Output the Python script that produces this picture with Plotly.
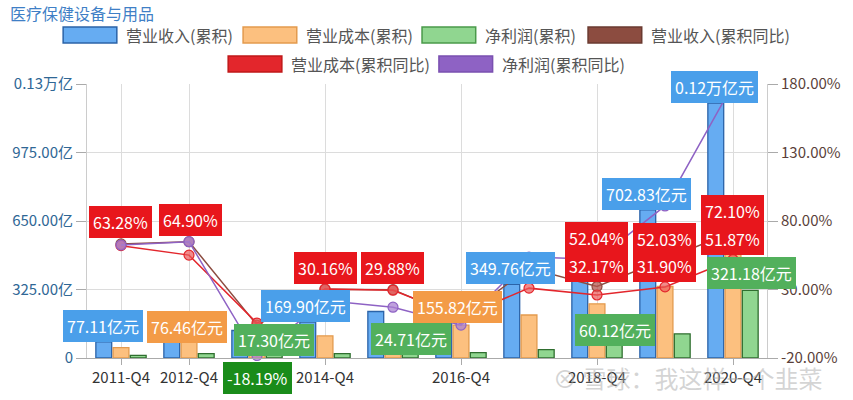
import plotly.graph_objects as go

# ---------------- data ----------------
categories = ["2011-Q4", "2012-Q4", "2013-Q4", "2014-Q4", "2015-Q4",
              "2016-Q4", "2017-Q4", "2018-Q4", "2019-Q4", "2020-Q4"]
revenue = [77.11, 126.9, 130.5, 169.90, 220.7, 240.0, 349.76, 462.3, 702.83, 1209.6]
cost = [49.3, 76.46, 80.7, 105.2, 136.2, 155.82, 204.1, 257.2, 339.2, 515.2]
profit = [12.8, 21.15, 17.30, 21.1, 24.71, 25.7, 39.5, 60.12, 114.8, 321.18]
revenue_yoy = [63.28, 64.90, 4.0, 30.16, 29.88, 8.8, 45.7, 32.17, 52.03, 72.10]
cost_yoy = [62.0, 55.1, 5.5, 30.4, 29.5, 10.0, 31.0, 26.0, 31.90, 51.87]
profit_yoy = [62.5, 64.90, -18.19, 22.0, 17.1, 4.0, 53.7, 52.04, 91.0, 179.7]

shown_ticks = ["2011-Q4", "2012-Q4", "2014-Q4", "2016-Q4", "2018-Q4", "2020-Q4"]
left_ticks = [0, 325, 650, 975, 1300]
left_ticktext = ["0", "325.00亿", "650.00亿", "975.00亿", "0.13万亿"]
right_ticks = [-20, 30, 80, 130, 180]

title_text = "医疗保健设备与用品"
series_names = ["营业收入(累积)", "营业成本(累积)", "净利润(累积)",
                "营业收入(累积同比)", "营业成本(累积同比)", "净利润(累积同比)"]
watermark = "雪球：我这样一个韭菜"

# ---------------- style ----------------
FONT = "Noto Sans CJK SC, Noto Sans, sans-serif"
W, H = 853, 400
PL, PR, PT, PB = 86, 770, 84, 358  # plot area in page pixels

BLUE, BLUE_L = "#66acf2", "#2b63a8"
ORANGE, ORANGE_L = "#fcc07f", "#e39a4e"
GREEN, GREEN_L = "#90d690", "#2f6e2f"
BROWN = "#8c4c40"
RED = "#e3262c"
PURPLE = "#8e62c4"

def px_x(px):
    return (px - PL) / (PR - PL)

def px_y(py):
    return (PB - py) / (PB - PT)

xs = list(range(len(categories)))

fig = go.Figure()
fig.add_trace(go.Bar(x=xs, y=revenue, name=series_names[0], marker=dict(color=BLUE, line=dict(color=BLUE_L, width=1.3))))
fig.add_trace(go.Bar(x=xs, y=cost, name=series_names[1], marker=dict(color=ORANGE, line=dict(color=ORANGE_L, width=1.3))))
fig.add_trace(go.Bar(x=xs, y=profit, name=series_names[2], marker=dict(color=GREEN, line=dict(color=GREEN_L, width=1.3))))

for vals, col, fill, name in [
    (revenue_yoy, BROWN, "rgba(180,90,80,0.75)", series_names[3]),
    (cost_yoy, RED, "rgba(235,90,90,0.7)", series_names[4]),
    (profit_yoy, PURPLE, "rgba(170,130,210,0.75)", series_names[5]),
]:
    fig.add_trace(go.Scatter(x=xs, y=vals, name=name, yaxis="y2", mode="lines+markers",
                             line=dict(color=col, width=1.5),
                             marker=dict(size=10, color=fill, line=dict(color=col, width=1.2)),
                             cliponaxis=False))

annotations = []
shapes = []

# title
annotations.append(dict(xref="paper", yref="paper", x=px_x(7), y=px_y(13), xanchor="left", yanchor="middle",
                        text=title_text, showarrow=False, font=dict(family=FONT, size=16, color="#3f7fc6")))

# legend (custom large swatches)
legend_items = [
    (series_names[0], BLUE, BLUE_L, 62, 35),
    (series_names[1], ORANGE, ORANGE_L, 243, 35),
    (series_names[2], GREEN, "#4a9a4a", 423, 35),
    (series_names[3], BROWN, "#6a3a30", 590, 35),
    (series_names[4], RED, "#c01818", 228, 64),
    (series_names[5], PURPLE, "#7a50b0", 440, 64),
]
for name, fill, border, sx, sy in legend_items:
    shapes.append(dict(type="rect", xref="paper", yref="paper",
                       x0=px_x(sx), x1=px_x(sx + 54), y0=px_y(sy - 8), y1=px_y(sy + 8),
                       fillcolor=fill, line=dict(color=border, width=1.5)))
    annotations.append(dict(xref="paper", yref="paper", x=px_x(sx + 61), y=px_y(sy), xanchor="left",
                            yanchor="middle", text=name, showarrow=False,
                            font=dict(family=FONT, size=16, color="#555555")))

# value labels (boxes)
def yi(v):
    return f"{v:.2f}亿元"

def wan(v):
    return f"{v / 10000:.2f}万亿元"

def pct(v):
    return f"{v:.2f}%"

C_RED, C_BLUE, C_ORANGE, C_GREEN, C_DGREEN = "#e8161c", "#4a9fea", "#f39b47", "#52b05c", "#1a8c1a"
labels = [
    (pct(revenue_yoy[0]), 120, 222, C_RED),
    (pct(profit_yoy[1]), 190, 220, C_RED),
    (yi(revenue[0]), 102, 326, C_BLUE),
    (yi(cost[1]), 187, 327, C_ORANGE),
    (yi(profit[2]), 274, 340, C_GREEN),
    (pct(profit_yoy[2]), 258, 378, C_DGREEN),
    (yi(revenue[3]), 306, 306, C_BLUE),
    (pct(revenue_yoy[3]), 326, 268, C_RED),
    (pct(revenue_yoy[4]), 393, 268, C_RED),
    (yi(profit[4]), 412, 339, C_GREEN),
    (yi(cost[5]), 459, 307, C_ORANGE),
    (yi(revenue[6]), 512, 268, C_BLUE),
    (pct(profit_yoy[7]), 598, 238, C_RED),
    (pct(revenue_yoy[7]), 598, 266, C_RED),
    (pct(revenue_yoy[8]), 667, 239, C_RED),
    (pct(cost_yoy[8]), 667, 266, C_RED),
    (yi(profit[7]), 617, 330, C_GREEN),
    (yi(revenue[8]), 649, 194, C_BLUE),
    (pct(revenue_yoy[9]), 735, 211, C_RED),
    (pct(cost_yoy[9]), 735, 239, C_RED),
    (yi(profit[9]), 754, 273, C_GREEN),
    (wan(revenue[9]), 717, 87, C_BLUE),
]
for text, cx, cy, col in labels:
    annotations.append(dict(xref="paper", yref="paper", x=px_x(cx), y=px_y(cy), xanchor="center",
                            yanchor="middle", text=text, showarrow=False, bgcolor=col, bordercolor=col,
                            borderwidth=1, borderpad=3,
                            font=dict(family=FONT, size=16, color="white")))

# watermark
annotations.append(dict(xref="paper", yref="paper", x=px_x(553), y=px_y(377), xanchor="left", yanchor="middle",
                        text="⊗ " + watermark, showarrow=False,
                        font=dict(family=FONT, size=24, color="rgba(170,170,170,0.5)")))

fig.update_layout(
    width=W, height=H,
    margin=dict(l=PL, r=W - PR, t=PT, b=H - PB),
    paper_bgcolor="white", plot_bgcolor="white",
    showlegend=False,
    barmode="group", bargap=0.24, bargroupgap=0.08,
    font=dict(family=FONT, size=15, color="#333333"),
    xaxis=dict(range=[-0.5, len(categories) - 0.5],
               tickvals=[categories.index(c) for c in shown_ticks], ticktext=shown_ticks,
               showgrid=True, gridcolor="#dcdcdc", gridwidth=1,
               showline=True, linecolor="#aaaaaa", ticks="outside", ticklen=6, tickcolor="#aaaaaa",
               tickfont=dict(family=FONT, size=15, color="#333333"), zeroline=False),
    yaxis=dict(range=[0, 1300], tickvals=left_ticks, ticktext=left_ticktext,
               showgrid=True, gridcolor="#dcdcdc", showline=True, linecolor="#cccccc",
               ticks="outside", ticklen=10, tickcolor="#aaaaaa",
               tickfont=dict(family=FONT, size=15, color="#2f6795"), zeroline=False),
    yaxis2=dict(range=[-20, 180], tickvals=right_ticks, ticktext=[f"{v:.2f}%" for v in right_ticks],
                overlaying="y", side="right", showgrid=False, showline=True, linecolor="#cccccc",
                ticks="outside", ticklen=10, tickcolor="#aaaaaa",
                tickfont=dict(family=FONT, size=15, color="#5a3f3a"), zeroline=False),
    annotations=annotations,
    shapes=shapes,
)

fig.write_html("out.html", config={"displayModeBar": False},
               post_script="document.body.style.margin='0';document.body.style.overflow='hidden';")
